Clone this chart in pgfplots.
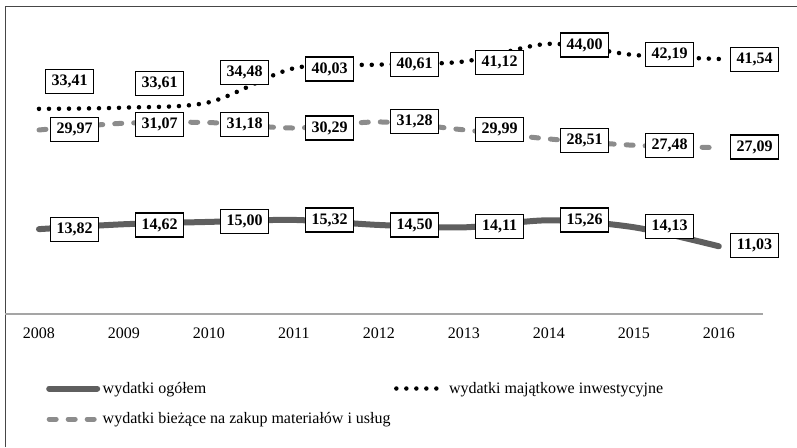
\documentclass[border=0pt]{standalone}
\usepackage{fontspec}
\setmainfont{Liberation Serif}
\usepackage{pgfplots}
\usepackage{pgfplotstable}
\pgfplotsset{compat=1.18}

\definecolor{totalc}{RGB}{95,95,95}
\definecolor{currc}{RGB}{140,140,140}
\definecolor{framec}{RGB}{70,70,70}
\definecolor{axisc}{RGB}{165,165,165}

% x = year index, v = value, lx/ly = where the data label box sits
\pgfplotstableread{
x v lx ly
0 13.82 0.42 13.8
1 14.62 1.42 14.5
2 15.00 2.42 15.0
3 15.32 3.42 15.3
4 14.50 4.42 14.5
5 14.11 5.42 14.2
6 15.26 6.42 15.3
7 14.13 7.42 14.2
8 11.03 8.42 11.1
}\ogolem
\pgfplotstableread{
x v lx ly
0 33.41 0.36 37.9
1 33.61 1.42 37.5
2 34.48 2.42 39.3
3 40.03 3.42 39.9
4 40.61 4.42 40.6
5 41.12 5.42 41.0
6 44.00 6.42 43.8
7 42.19 7.42 42.2
8 41.54 8.42 41.5
}\majatkowe
\pgfplotstableread{
x v lx ly
0 29.97 0.42 30.0
1 31.07 1.42 30.9
2 31.18 2.42 30.9
3 30.29 3.42 30.3
4 31.28 4.42 31.3
5 29.99 5.42 30.0
6 28.51 6.42 28.3
7 27.48 7.42 27.5
8 27.09 8.42 27.2
}\biezace

\pgfplotsset{
  lab/.style={draw=none, mark=none, forget plot,
    point meta=explicit,
    nodes near coords,
    nodes near coords align={center},
    every node near coord/.append style={anchor=center, draw=black, fill=white,
      line width=1.2pt, inner sep=0pt, minimum width=48pt, minimum height=24pt,
      font=\fontsize{16}{19}\selectfont\bfseries,
      /pgf/number format/.cd, fixed, fixed zerofill, precision=2, use comma,
      assume math mode=true}},
}

\begin{document}
\begin{tikzpicture}[x=1pt,y=1pt]
\useasboundingbox (0,0) rectangle (797,447);
\draw[framec, line width=1pt] (5.5,0) -- (5.5,440) -- (797,440);
\begin{axis}[
  at={(5pt,133pt)}, anchor=south west,
  scale only axis, width=758pt, height=307pt,
  xmin=-0.4, xmax=8.52, ymin=0, ymax=50,
  clip=false,
  axis x line*=bottom, axis y line=none,
  x axis line style={axisc, line width=1.5pt, -},
  xtick={0,...,8}, major tick length=0pt,
  xticklabels={2008,2009,2010,2011,2012,2013,2014,2015,2016},
  xticklabel style={font=\fontsize{16}{19}\selectfont, yshift=-10pt},
  ytick=\empty,
  legend columns=2,
  legend cell align=left,
  legend style={draw=none, fill=none, at={(axis description cs:0,0)},
    anchor=north west, xshift=38pt, yshift=-64pt,
    font=\fontsize{16}{19}\selectfont, row sep=14pt,
    nodes={inner xsep=2.5pt},
    /tikz/every even column/.append style={column sep=1pt}},
  legend image code/.code={\draw[#1] (2.5pt,0pt) -- (50.5pt,0pt);},
]
\addplot[totalc, line width=6pt, line cap=round, smooth] table[x=x,y=v] {\ogolem};
\addlegendentry{wydatki ogółem}
\addplot[black, line width=4.5pt, line cap=round, dash pattern=on 0pt off 10pt, smooth] table[x=x,y=v] {\majatkowe};
\addlegendentry{wydatki majątkowe inwestycyjne}
\addplot[currc, line width=5pt, line cap=round, dash pattern=on 7pt off 12pt, smooth] table[x=x,y=v] {\biezace};
\addlegendentry{wydatki bieżące na zakup materiałów i usług}

\addplot[lab] table[x=lx,y=ly,meta=v] {\ogolem};
\addplot[lab] table[x=lx,y=ly,meta=v] {\majatkowe};
\addplot[lab] table[x=lx,y=ly,meta=v] {\biezace};
\end{axis}
\end{tikzpicture}
\end{document}
